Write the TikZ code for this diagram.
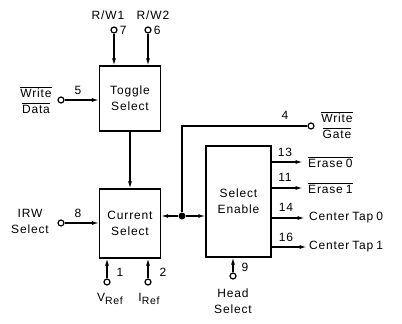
\documentclass[tikz,border=0pt]{standalone}
\usepackage{amsmath}
\usepackage{fontspec}
\setmainfont{Liberation Sans}[LetterSpace=7, WordSpace=0.7]
\usepackage{tikz}
\usetikzlibrary{arrows.meta, positioning}
\newcommand{\actlow}[1]{$\overline{\mbox{#1}}$}
\newcommand{\refsub}[1]{#1\raisebox{-3pt}{\fontsize{10.5}{11}\selectfont Ref}}

\begin{document}
\begin{tikzpicture}[x=1pt, y=-1pt,
    font=\fontsize{12}{16}\selectfont,
    block/.style={rectangle, draw, line width=1.2pt, align=center, inner sep=0pt},
    pin/.style={circle, draw, line width=1.2pt, fill=white, minimum size=6pt, inner sep=0pt},
    junc/.style={circle, fill, minimum size=7pt, inner sep=0pt},
    arrow/.style={-{Latex[length=7pt, width=4pt]}, line width=1.2pt},
    wire/.style={line width=1.2pt},
    num/.style={inner sep=1pt},
    lbl/.style={align=center, inner sep=0pt}
]
\useasboundingbox (0,0) rectangle (402,324);

\node[block, minimum width=61pt, minimum height=65pt] (toggle) at (130,98.5) {Toggle\\Select};
\node[block, minimum width=61pt, minimum height=69pt] (current) at (130,223.5) {Current\\Select};
\node[block, minimum width=65pt, minimum height=111pt] (enable) at (238.5,201.5) {Select\\Enable};

\node[pin] (pinRW1) at (114,30) {};
\node[pin] (pinRW2) at (148,30) {};
\node[pin] (pinData) at (61,100) {};
\node[pin] (pinIRW) at (61,223) {};
\node[pin] (pinVref) at (107,282) {};
\node[pin] (pinIref) at (148,282) {};
\node[pin] (pinGate) at (311,126) {};
\node[pin] (pinHead) at (233,276) {};
\node[junc] (junc) at (182,216) {};
\coordinate (corner) at (182,126);

\node[num, right=1pt of pinRW1] {7};
\node[num, right=1pt of pinRW2] {6};
\node[lbl] at (108,15) {R/W1};
\node[lbl] at (153,15) {R/W2};
\node[num] at (78,90) {5};
\node[lbl] at (36,100) {\actlow{Write}\\\actlow{Data}};
\node[num] at (78,213) {8};
\node[lbl] at (30,221) {IRW\\Select};
\node[num] at (120,272) {1};
\node[num] at (163,272) {2};
\node[lbl] at (110,299) {\refsub{V}};
\node[lbl] at (149,299) {\refsub{I}};
\node[num] at (285,115) {4};
\node[lbl] at (337,125) {\actlow{Write}\\\actlow{Gate}};
\node[num] at (245,267) {9};
\node[lbl] at (233,301) {Head\\Select};

\draw[arrow] (pinRW1) -- (pinRW1 |- toggle.north);
\draw[arrow] (pinRW2) -- (pinRW2 |- toggle.north);
\draw[arrow] (pinData) -- (pinData -| toggle.west);
\draw[arrow] (toggle.south) -- (current.north);
\draw[arrow] (pinIRW) -- (pinIRW -| current.west);
\draw[arrow] (pinVref) -- (pinVref |- current.south);
\draw[arrow] (pinIref) -- (pinIref |- current.south);
\draw[arrow] (junc) -- (junc -| current.east);
\draw[arrow] (junc) -- (junc -| enable.west);
\draw[wire] (junc) -- (corner) -- (pinGate);
\draw[arrow] (pinHead) -- (pinHead |- enable.south);

\coordinate (outA) at (enable.east |- 0,162);
\coordinate (outB) at (enable.east |- 0,188);
\coordinate (outC) at (enable.east |- 0,218);
\coordinate (outD) at (enable.east |- 0,247);
\draw[arrow] (outA) -- ++(31,0) node[right=5pt, lbl] {\actlow{Erase 0}};
\draw[arrow] (outB) -- ++(31,0) node[right=5pt, lbl] {\actlow{Erase 1}};
\draw[arrow] (outC) -- ++(33,0) node[right=4pt, lbl] {Center Tap 0};
\draw[arrow] (outD) -- ++(35,0) node[right=2pt, lbl] {Center Tap 1};
\node[num] at (285,152) {13};
\node[num] at (285,177) {11};
\node[num] at (286,207) {14};
\node[num] at (286,237) {16};
\end{tikzpicture}
\end{document}
